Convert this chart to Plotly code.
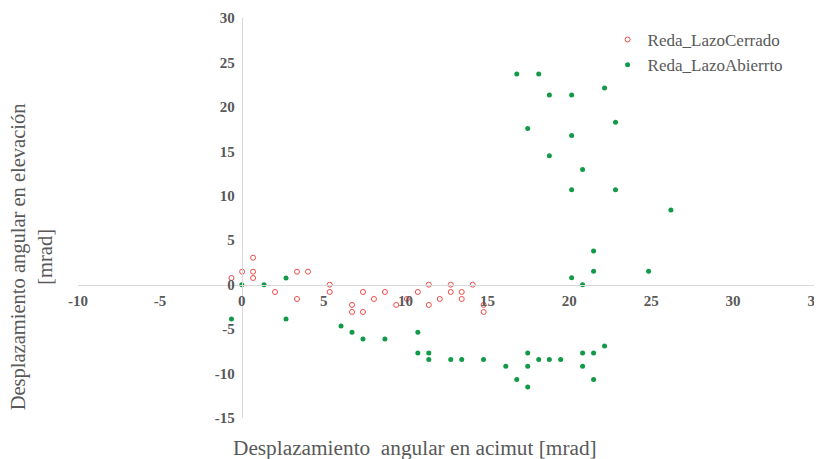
import plotly.graph_objects as go

# Reda_LazoCerrado (open red circles)
cerrado_x = [-0.63, 0.02, 0.69, 0.69, 0.69, 2.03, 3.37, 4.04, 3.37, 5.37, 5.37, 7.40, 8.07,
             6.73, 6.73, 7.40, 8.74, 9.43, 10.08, 10.75, 11.42, 11.42, 12.09, 12.76, 12.76,
             13.43, 13.43, 14.10, 14.77, 14.77]
cerrado_y = [0.75, 1.46, 3.03, 1.46, 0.75, -0.82, 1.46, 1.46, -1.61, 0.0, -0.82, -0.82, -1.61,
             -2.28, -3.07, -3.07, -0.82, -2.28, -1.61, -0.82, 0.0, -2.28, -1.61, 0.0, -0.82,
             -0.82, -1.61, 0.0, -2.28, -3.07]

# Reda_LazoAbierrto (filled green dots)
abierto_x = [0.0, 1.36, 2.70, -0.63, 2.70, 6.06, 6.73, 7.40, 8.74, 10.75, 10.75, 11.42, 11.42,
             12.76, 13.43, 14.76, 16.12, 16.79, 17.46, 17.46, 17.46, 18.13, 18.78, 19.47,
             20.81, 20.81, 21.48, 21.48, 22.15,
             16.79, 18.13, 18.78, 20.14, 22.15, 17.46, 22.82, 20.14, 18.78, 20.81, 20.14,
             22.82, 26.20, 21.48, 21.48, 24.84, 20.14, 20.81]
abierto_y = [0.0, 0.0, 0.75, -3.85, -3.85, -4.64, -5.36, -6.10, -6.10, -5.36, -7.68, -7.68, -8.43,
             -8.43, -8.43, -8.43, -9.18, -10.67, -7.68, -9.18, -11.50, -8.43, -8.43, -8.43,
             -7.68, -9.18, -7.68, -10.67, -6.89,
             23.70, 23.70, 21.35, 21.35, 22.13, 17.56, 18.28, 16.78, 14.49, 12.96, 10.67,
             10.67, 8.39, 3.79, 1.50, 1.50, 0.79, 0.0]

x_ticks = [-10, -5, 0, 5, 10, 15, 20, 25, 30, 35]
y_ticks = [-15, -10, -5, 0, 5, 10, 15, 20, 25, 30]

X_RANGE = [-10, 35]
Y_RANGE = [-15, 30]

SERIF = "Liberation Serif, Times New Roman, serif"
GRAY = "#595959"

fig = go.Figure()
fig.add_trace(go.Scatter(
    x=cerrado_x, y=cerrado_y, mode="markers", name="Reda_LazoCerrado",
    marker=dict(symbol="circle-open", size=5, color="#F04A4A", line=dict(width=1, color="#F04A4A")),
))
fig.add_trace(go.Scatter(
    x=abierto_x, y=abierto_y, mode="markers", name="Reda_LazoAbierrto",
    marker=dict(symbol="circle", size=5, color="#139A48"),
))

xpos = (0 - Y_RANGE[0]) / (Y_RANGE[1] - Y_RANGE[0])
ypos = (0 - X_RANGE[0]) / (X_RANGE[1] - X_RANGE[0])

fig.update_layout(
    width=814, height=451,
    margin=dict(l=70, r=7, t=10, b=41),
    paper_bgcolor="white", plot_bgcolor="white",
    font=dict(family=SERIF, color=GRAY),
    showlegend=True,
    legend=dict(x=0.7186, y=0.99, xanchor="left", yanchor="top",
                font=dict(family=SERIF, size=17, color=GRAY),
                bgcolor="rgba(0,0,0,0)", itemwidth=30, tracegroupgap=4),
    xaxis=dict(range=X_RANGE, tickvals=x_ticks, ticktext=[str(v) for v in x_ticks],
               showgrid=False, zeroline=False, showline=True, linecolor="#D9D9D9", linewidth=1,
               anchor="free", position=xpos, ticks="", automargin=False,
               ticklabeloverflow="allow",
               tickfont=dict(family=SERIF, size=15, color=GRAY, weight="bold"),
               ticklabelstandoff=2),
    yaxis=dict(range=Y_RANGE, tickvals=y_ticks, ticktext=[str(v) for v in y_ticks],
               showgrid=False, zeroline=False, showline=True, linecolor="#D9D9D9", linewidth=1,
               anchor="free", position=ypos, ticks="", automargin=False,
               ticklabeloverflow="allow",
               tickfont=dict(family=SERIF, size=15, color=GRAY, weight="bold"),
               ticklabelstandoff=4),
    annotations=[
        dict(text="Desplazamiento angular en elevación<br>[mrad]", textangle=-90,
             xref="paper", yref="paper", x=-0.062, y=0.4025, xanchor="center", yanchor="middle",
             showarrow=False, font=dict(family=SERIF, size=20.5, color=GRAY)),
        dict(text="Desplazamiento  angular en acimut [mrad]",
             xref="paper", yref="paper", x=0.457, y=-0.075, xanchor="center", yanchor="middle",
             showarrow=False, font=dict(family=SERIF, size=21.3, color=GRAY)),
    ],
)

fig.write_html("out.html")
